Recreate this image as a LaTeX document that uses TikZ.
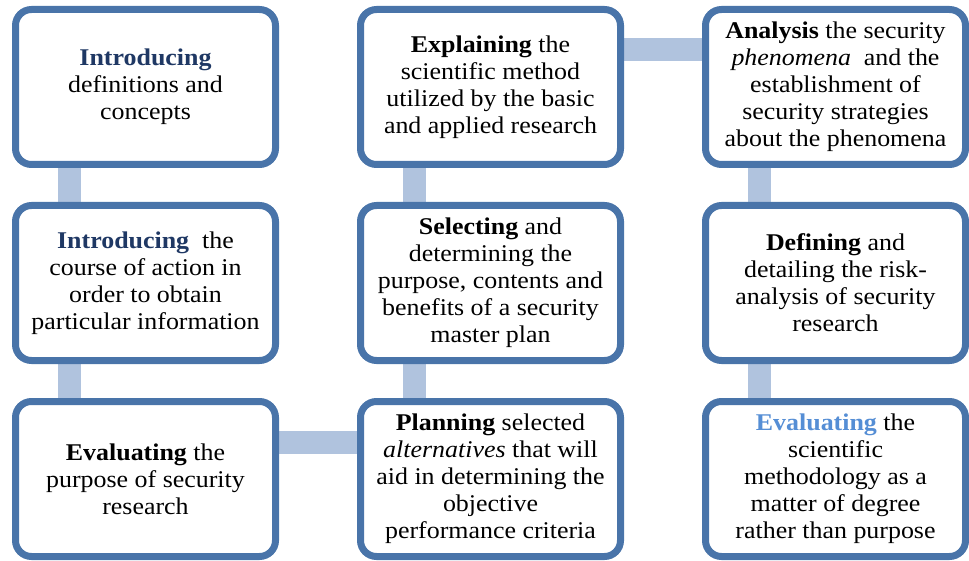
\documentclass[tikz,border=0pt]{standalone}
\usepackage{fontspec}
\setmainfont[FakeStretch=1.08]{Liberation Serif}
\usetikzlibrary{positioning,calc,backgrounds}
\definecolor{boxblue}{RGB}{73,116,169}
\definecolor{barblue}{RGB}{176,195,222}
\definecolor{headnavy}{RGB}{31,56,100}
\definecolor{headsky}{RGB}{85,142,213}

\begin{document}
\begin{tikzpicture}[
                x=1pt, y=1pt,
                box/.style={draw=boxblue, line width=7pt, rounded corners=16pt, fill=white,
                            minimum width=260pt, minimum height=155pt, inner sep=0pt,
                            align=center, font=\fontsize{24}{27}\selectfont},
                bar/.style={draw=barblue, line width=23pt},
                node distance=34pt and 78pt
                ]
                \useasboundingbox (0,0) rectangle (969,-561);

                % Define the nodes
                \node[box] (intro) at (145.5,-87)
                    {\textcolor{headnavy}{\textbf{Introducing}}\\definitions and\\concepts};
                \node[box, below=of intro] (course)
                    {\textcolor{headnavy}{\textbf{Introducing}}\ \ the\\course of action in\\order to obtain\\particular information};
                \node[box, below=of course] (purpose)
                    {\textbf{Evaluating} the\\purpose of security\\research};
                \node[box, right=of intro] (explain)
                    {\textbf{Explaining} the\\scientific method\\utilized by the basic\\and applied research};
                \node[box, below=of explain] (select)
                    {\textbf{Selecting} and\\determining the\\purpose, contents and\\benefits of a security\\master plan};
                \node[box, below=of select] (plan)
                    {\textbf{Planning} selected\\\textit{alternatives} that will\\aid in determining the\\objective\\performance criteria};
                \node[box, right=of explain] (analysis)
                    {\textbf{Analysis} the security\\\textit{phenomena}\ \ and the\\establishment of\\security strategies\\about the phenomena};
                \node[box, below=of analysis] (risk)
                    {\textbf{Defining} and\\detailing the risk-\\analysis of security\\research};
                \node[box, below=of risk] (degree)
                    {\textcolor{headsky}{\textbf{Evaluating}} the\\scientific\\methodology as a\\matter of degree\\rather than purpose};

                % Draw the bars
                \begin{scope}[on background layer]
                \draw[bar] ($(intro.south west)+(57,0)$) -- ($(course.north west)+(57,0)$);
                \draw[bar] ($(course.south west)+(57,0)$) -- ($(purpose.north west)+(57,0)$);
                \draw[bar] ($(purpose.north east)+(0,-44)$) -- ($(plan.north west)+(0,-44)$);
                \draw[bar] ($(plan.north west)+(57,0)$) -- ($(select.south west)+(57,0)$);
                \draw[bar] ($(select.north west)+(57,0)$) -- ($(explain.south west)+(57,0)$);
                \draw[bar] ($(explain.north east)+(0,-44)$) -- ($(analysis.north west)+(0,-44)$);
                \draw[bar] ($(analysis.south west)+(57,0)$) -- ($(risk.north west)+(57,0)$);
                \draw[bar] ($(risk.south west)+(57,0)$) -- ($(degree.north west)+(57,0)$);
                \end{scope}
            \end{tikzpicture}
\end{document}
